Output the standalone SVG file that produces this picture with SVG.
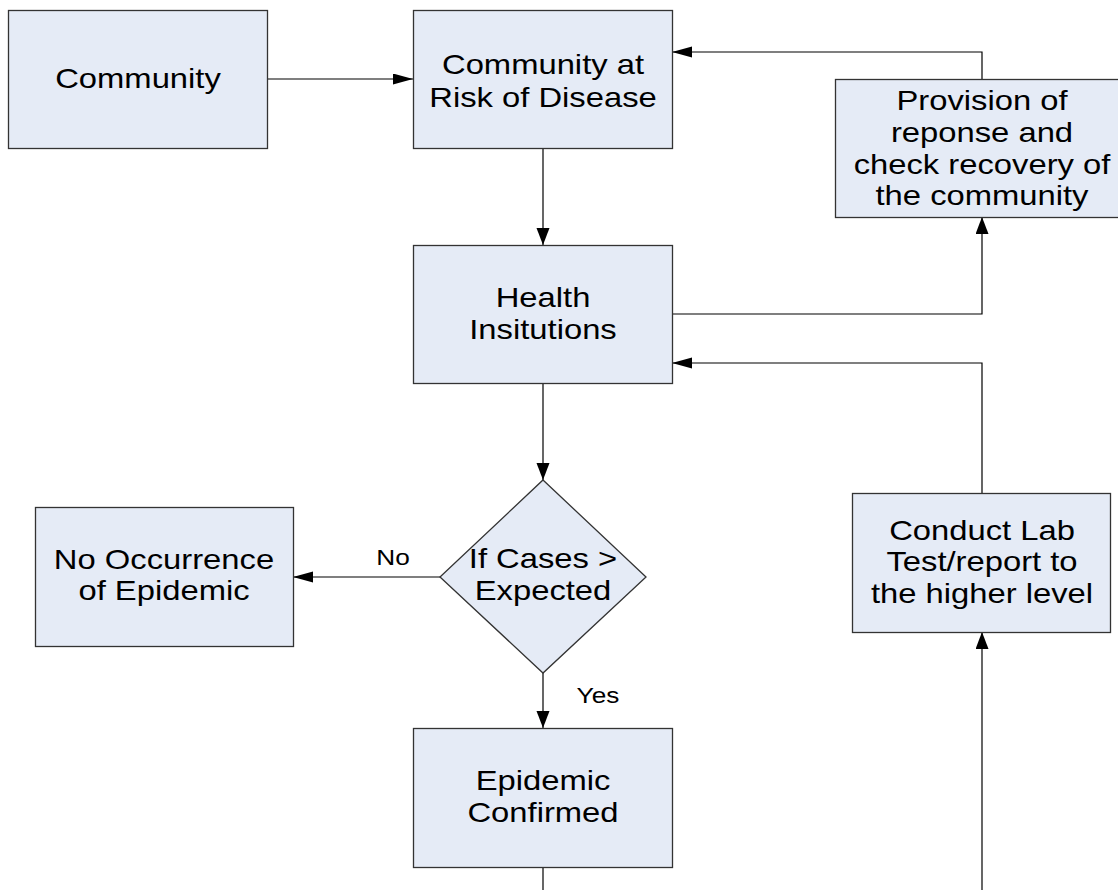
<svg xmlns="http://www.w3.org/2000/svg" width="1118" height="890" viewBox="0 0 1118 890">
  <style>
    .box { fill: #E5EBF6; stroke: #333333; stroke-width: 1.3; }
    .link { fill: none; stroke: #000000; stroke-width: 1.2; }
    .t { font-family: "Liberation Sans", Arial, sans-serif; font-size: 28px; fill: #000000; text-anchor: middle; }
    .lbl { font-family: "Liberation Sans", Arial, sans-serif; font-size: 21.5px; fill: #000000; text-anchor: middle; }
  </style>
  <defs>
    <marker id="arrowH" markerUnits="userSpaceOnUse" markerWidth="20" markerHeight="12" refX="20" refY="5.5" orient="auto">
      <path d="M0,0 L20,5.5 L0,11 Z" fill="#000000"/>
    </marker>
    <marker id="arrowV" markerUnits="userSpaceOnUse" markerWidth="17" markerHeight="14" refX="17" refY="6.5" orient="auto">
      <path d="M0,0 L17,6.5 L0,13 Z" fill="#000000"/>
    </marker>
  </defs>
  <rect width="1118" height="890" fill="#FFFFFF"/>

  <!-- connectors -->
  <g id="connectors">
    <path class="link" d="M268,79 H413" marker-end="url(#arrowH)"/>
    <path class="link" d="M543,148 V245" marker-end="url(#arrowV)"/>
    <path class="link" d="M672,314 H982 V217" marker-end="url(#arrowV)"/>
    <path class="link" d="M982,79 V52 H672" marker-end="url(#arrowH)"/>
    <path class="link" d="M543,383 V480" marker-end="url(#arrowV)"/>
    <path class="link" d="M440,577 H293" marker-end="url(#arrowH)"/>
    <path class="link" d="M543,673 V728" marker-end="url(#arrowV)"/>
    <path class="link" d="M543,867 V890"/>
    <path class="link" d="M982,890 V632" marker-end="url(#arrowV)"/>
    <path class="link" d="M982,494 V363 H672" marker-end="url(#arrowH)"/>
    <text class="lbl" transform="translate(393 0) scale(1.22 1)" x="0" y="565">No</text>
    <text class="lbl" transform="translate(598 0) scale(1.22 1)" x="0" y="703">Yes</text>
  </g>

  <g id="community">
    <rect class="box" x="8.5" y="10.5" width="259" height="138"/>
    <text class="t" transform="translate(138 0) scale(1.17 1)" x="0" y="88">Community</text>
  </g>

  <g id="community-at-risk">
    <rect class="box" x="413.5" y="10.5" width="259" height="138"/>
    <text class="t" transform="translate(543 0) scale(1.17 1)" x="0" y="74">Community at</text>
    <text class="t" transform="translate(543 0) scale(1.17 1)" x="0" y="107">Risk of Disease</text>
  </g>

  <g id="provision-of-response">
    <rect class="box" x="835.5" y="79.5" width="293" height="138"/>
    <text class="t" transform="translate(982 0) scale(1.17 1)" x="0" y="110">Provision of</text>
    <text class="t" transform="translate(982 0) scale(1.17 1)" x="0" y="142">reponse and</text>
    <text class="t" transform="translate(982 0) scale(1.17 1)" x="0" y="174">check recovery of</text>
    <text class="t" transform="translate(982 0) scale(1.17 1)" x="0" y="205">the community</text>
  </g>

  <g id="health-institutions">
    <rect class="box" x="413.5" y="245.5" width="259" height="138"/>
    <text class="t" transform="translate(543 0) scale(1.17 1)" x="0" y="307">Health</text>
    <text class="t" transform="translate(543 0) scale(1.17 1)" x="0" y="339">Insitutions</text>
  </g>

  <g id="cases-decision">
    <polygon class="box" points="543,480 646,577 543,673 440,577"/>
    <text class="t" transform="translate(543 0) scale(1.17 1)" x="0" y="568">If Cases &gt;</text>
    <text class="t" transform="translate(543 0) scale(1.17 1)" x="0" y="600">Expected</text>
  </g>

  <g id="no-occurrence">
    <rect class="box" x="35.5" y="507.5" width="258" height="139"/>
    <text class="t" transform="translate(164 0) scale(1.17 1)" x="0" y="569">No Occurrence</text>
    <text class="t" transform="translate(164 0) scale(1.17 1)" x="0" y="600">of Epidemic</text>
  </g>

  <g id="conduct-lab-test">
    <rect class="box" x="852.5" y="493.5" width="258" height="139"/>
    <text class="t" transform="translate(982 0) scale(1.17 1)" x="0" y="540">Conduct Lab</text>
    <text class="t" transform="translate(982 0) scale(1.17 1)" x="0" y="571">Test/report to</text>
    <text class="t" transform="translate(982 0) scale(1.17 1)" x="0" y="603">the higher level</text>
  </g>

  <g id="epidemic-confirmed">
    <rect class="box" x="413.5" y="728.5" width="259" height="139"/>
    <text class="t" transform="translate(543 0) scale(1.17 1)" x="0" y="790">Epidemic</text>
    <text class="t" transform="translate(543 0) scale(1.17 1)" x="0" y="822">Confirmed</text>
  </g>
</svg>
